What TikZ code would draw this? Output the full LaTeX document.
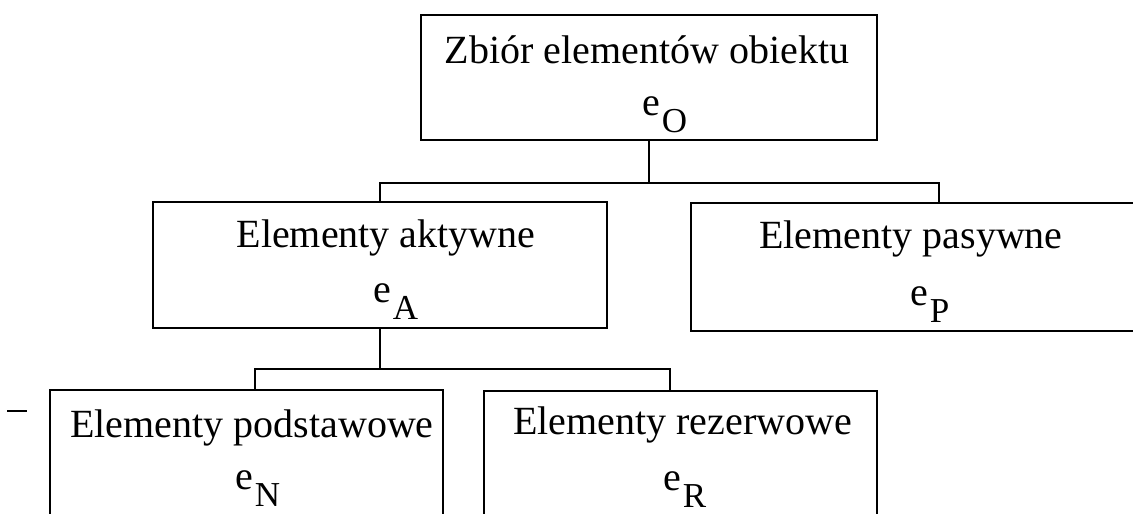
\documentclass[tikz,border=0pt]{standalone}
\usepackage{fontspec}
\setmainfont{Liberation Serif}
\newcommand\elsub[1]{e\kern2pt\raisebox{-17pt}{\fontsize{35}{35}\selectfont #1}}
\begin{document}
\begin{tikzpicture}[x=1pt,y=-1pt,
  box/.style={draw, line width=1.6pt, rectangle, inner sep=0pt},
  wire/.style={line width=1.4pt},
  lbl/.style={inner sep=0pt, font=\fontsize{40}{48}\selectfont},
]
\path[use as bounding box] (0,0) rectangle (1133,514);
\clip (0,0) rectangle (1133,514);

% boxes
\node[box, minimum width=456pt, minimum height=125pt] (O) at (649,77.5) {};
\node[box, minimum width=454pt, minimum height=126pt] (A) at (380,265) {};
\node[box, minimum width=449pt, minimum height=128pt] (P) at (915.5,267) {};
\node[box, minimum width=393pt, minimum height=140pt] (N) at (246.5,460) {};
\node[box, minimum width=393pt, minimum height=139pt] (R) at (680.5,460.5) {};

% labels
\node[lbl, anchor=base] (Ot) at (647,63) {Zbiór elementów obiektu};
\node[lbl, anchor=base west] (Os) at (642,115) {\elsub{O}};
\node[lbl, anchor=base] (At) at (386,247) {Elementy aktywne};
\node[lbl, anchor=base west] (As) at (373,302) {\elsub{A}};
\node[lbl, anchor=base] (Pt) at (911,248) {Elementy pasywne};
\node[lbl, anchor=base west] (Ps) at (910,305) {\elsub{P}};
\node[lbl, anchor=base] (Nt) at (252,437) {Elementy podstawowe};
\node[lbl, anchor=base west] (Ns) at (235,489) {\elsub{N}};
\node[lbl, anchor=base] (Rt) at (682.5,434) {Elementy rezerwowe};
\node[lbl, anchor=base west] (Rs) at (663,490) {\elsub{R}};

% junctions
\coordinate (j1) at (649,183);
\coordinate (pin) at (939,203);
\coordinate (j2) at (380,369);
\coordinate (nin) at (255,390);
\coordinate (rin) at (670,391);

% connectors
\draw[wire] (O.south) -- (j1);
\draw[wire] (j1) -| (A.north);
\draw[wire] (j1) -| (pin);
\draw[wire] (A.south) -- (j2);
\draw[wire] (j2) -| (nin);
\draw[wire] (j2) -| (rin);

% short mark at the left
\draw[wire] (7,411) -- (27,411);
\end{tikzpicture}
\end{document}
